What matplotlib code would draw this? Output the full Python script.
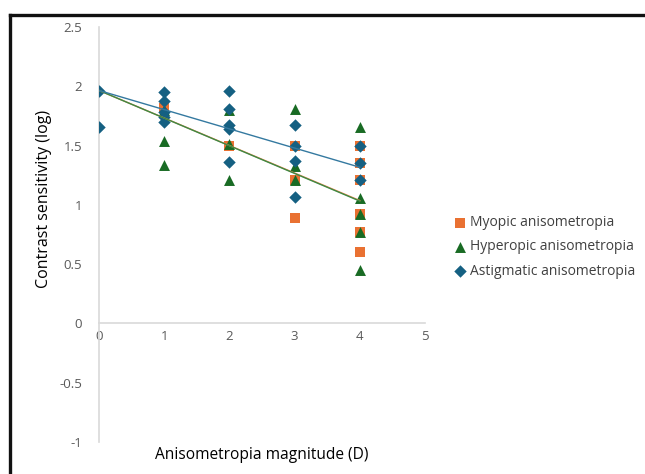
import matplotlib
matplotlib.use("Agg")
import matplotlib.pyplot as plt
import numpy as np
from matplotlib.lines import Line2D

plt.rcParams['font.family'] = ['Open Sans', 'DejaVu Sans']

# anisometropia magnitude (D) and log contrast sensitivity
myo_x = [1, 2, 3, 3, 3, 4, 4, 4, 4, 4, 4]
myo_y = [1.82, 1.50, 1.50, 1.21, 0.89, 1.50, 1.35, 1.21, 0.92, 0.77, 0.60]

hyp_x = [1, 1, 1, 2, 2, 2, 3, 3, 3, 4, 4, 4, 4, 4]
hyp_y = [1.80, 1.54, 1.34, 1.80, 1.51, 1.21, 1.81, 1.33, 1.21, 1.66, 1.06, 0.92, 0.77, 0.45]

ast_x = [0, 0, 1, 1, 1, 1, 1, 2, 2, 2, 2, 2, 3, 3, 3, 3, 4, 4, 4]
ast_y = [1.96, 1.66, 1.95, 1.88, 1.78, 1.74, 1.70, 1.96, 1.81, 1.67, 1.64, 1.36,
         1.67, 1.50, 1.37, 1.065, 1.50, 1.35, 1.21]

labels = ['Myopic anisometropia', 'Hyperopic anisometropia', 'Astigmatic anisometropia']
colors = ['#E97132', '#196B24', '#156082']
line_colors = ['#EE8048', '#3C8A45', '#3479A0']
markers = ['s', '^', 'D']
msizes = [46, 62, 40]

# trendlines use a fixed intercept (set in the spreadsheet)
intercept = 1.965

fig = plt.figure(figsize=(6.45, 4.74), dpi=100)
ax = fig.add_axes([0.1535, 0.0675, 0.5054, 0.8755])

series = [(myo_x, myo_y), (hyp_x, hyp_y), (ast_x, ast_y)]
for (xs, ys), lab, c, m, s in zip(series, labels, colors, markers, msizes):
    ax.scatter(xs, ys, marker=m, s=s, color=c, label=lab, zorder=3, linewidths=0)

for (xs, ys), c in zip(series, line_colors):
    xs = np.array(xs, float)
    ys = np.array(ys, float)
    slope = np.sum(xs*(ys - intercept))/np.sum(xs*xs)
    xl = np.array([0., xs.max()])
    ax.plot(xl, intercept + slope*xl, color=c, lw=1.0, zorder=4)

ax.set_xlim(0, 5)
ax.set_ylim(-1, 2.5)
ax.set_xticks(range(0, 6))
ax.set_yticks([-1, -0.5, 0, 0.5, 1, 1.5, 2, 2.5])
ax.set_yticklabels(['-1', '-0.5', '0', '0.5', '1', '1.5', '2', '2.5'])

for k in ['top', 'right']:
    ax.spines[k].set_visible(False)
ax.spines['bottom'].set_position(('data', 0))
ax.spines['bottom'].set_color('#d9d9d9')
ax.spines['left'].set_color('#d9d9d9')
ax.spines['bottom'].set_linewidth(1.2)
ax.spines['left'].set_linewidth(1.2)
ax.tick_params(length=0, labelsize=9.5, labelcolor='#595959')
ax.tick_params(axis='y', pad=12)
ax.tick_params(axis='x', pad=5)

fig.text(44/645, 1-199/474, 'Contrast sensitivity (log)', rotation=90,
         ha='center', va='center', fontsize=11.5, color='black')
fig.text(262/645, 1-455/474, 'Anisometropia magnitude (D)',
         ha='center', va='center', fontsize=11.2, color='black')

ax.legend(loc='center left', bbox_to_anchor=(446/645, 1-247/474),
          bbox_transform=fig.transFigure, frameon=False, fontsize=10,
          labelcolor='#404040', handletextpad=0.1, labelspacing=0.65,
          handlelength=1.2, borderaxespad=0)

# black frame around the picture (left and top)
fig.add_artist(Line2D([9.5/645, 9.5/645], [0, 1-14.5/474], color='#111111', lw=2.4,
                      transform=fig.transFigure))
fig.add_artist(Line2D([9.5/645, 1], [1-14.5/474, 1-14.5/474], color='#111111', lw=2.4,
                      transform=fig.transFigure))

fig.savefig('out.png', dpi=100)
